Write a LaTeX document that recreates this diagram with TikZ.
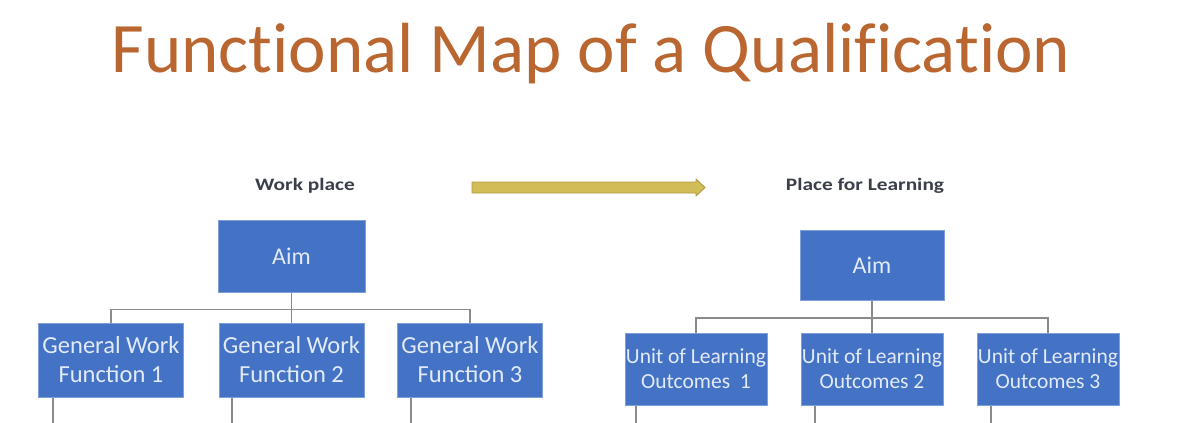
\documentclass[tikz,border=0pt]{standalone}
\usepackage{fontspec}
\setmainfont{Carlito}
\usetikzlibrary{calc}
\newfontfamily\titlefont[RawFeature=-liga]{Carlito}
\newfontfamily\widefont[FakeStretch=1.22]{Carlito}
\definecolor{titlecol}{HTML}{BA6630}
\definecolor{boxfill}{HTML}{4472C4}
\definecolor{boxedge}{HTML}{7F9FD8}
\definecolor{boxtext}{HTML}{E2EAF8}
\definecolor{linecol}{HTML}{8A8A8A}
\definecolor{arrfill}{HTML}{D2BC58}
\definecolor{arredge}{HTML}{B09A3C}
\definecolor{headcol}{HTML}{3A3F4A}
\begin{document}
\begin{tikzpicture}[x=1pt,y=-1pt,
  box/.style={draw=boxedge,line width=1pt,fill=boxfill,text=boxtext,align=center,inner sep=0pt},
  gwbox/.style={box,minimum width=145pt,minimum height=74pt,font=\fontsize{24.5}{29}\selectfont},
  ubox/.style={box,minimum width=142pt,minimum height=72pt,font=\fontsize{21.5}{25}\selectfont},
  aimbox/.style={box,font=\fontsize{24}{26}\selectfont},
  conn/.style={draw=linecol,line width=1.4pt},
  head/.style={text=headcol,font=\widefont\bfseries\fontsize{17.5}{20}\selectfont}]
\useasboundingbox[fill=white] (0,0) rectangle (1200,423);
\node[text=titlecol,font=\titlefont\fontsize{71}{76}\selectfont,anchor=base] (title) at (591,72) {Functional Map of a Qualification};
\node[head] (hl) at (305,186) {Work place};
\node[head] (hr) at (865,186) {Place for Learning};
% arrow
\coordinate (as) at (472,187.5);
\coordinate (ae) at (705,187.5);
\fill[arrfill,draw=arredge,line width=0.9pt,line join=round]
  ($(as)+(0,-5.5)$) -- ($(ae)+(-9,-5.5)$) -- ($(ae)+(-9,-8.5)$) -- (ae)
  -- ($(ae)+(-9,8.5)$) -- ($(ae)+(-9,5.5)$) -- ($(as)+(0,5.5)$) -- cycle;
% left tree
\node[aimbox,minimum width=147pt,minimum height=72pt] (aimL) at (291.5,256) {Aim};
\node[gwbox] (g1) at (111,360) {General Work\\Function 1};
\node[gwbox] (g2) at (291.5,360) {General Work\\Function 2};
\node[gwbox] (g3) at (470,360) {General Work\\Function 3};
\coordinate (jl) at (291.5,309.5);
\draw[conn] (aimL.south) -- (jl);
\draw[conn] (g1.north) |- (jl) -| (g3.north);
\draw[conn] (jl) -- (g2.north);
\coordinate (b1) at (53,423);
\coordinate (b2) at (232,423);
\coordinate (b3) at (411,423);
\draw[conn] (g1.south -| b1) -- (b1);
\draw[conn] (g2.south -| b2) -- (b2);
\draw[conn] (g3.south -| b3) -- (b3);
% right tree
\node[aimbox,minimum width=144pt,minimum height=70pt] (aimR) at (872,265) {Aim};
\node[ubox] (u1) at (696,369) {Unit of Learning\\Outcomes~~1};
\node[ubox] (u2) at (872,369) {Unit of Learning\\Outcomes 2};
\node[ubox] (u3) at (1048,369) {Unit of Learning\\Outcomes 3};
\coordinate (jr) at (872,318);
\draw[conn] (aimR.south) -- (jr);
\draw[conn] (u1.north) |- (jr) -| (u3.north);
\draw[conn] (jr) -- (u2.north);
\coordinate (c1) at (636,423);
\coordinate (c2) at (815,423);
\coordinate (c3) at (991,423);
\draw[conn] (u1.south -| c1) -- (c1);
\draw[conn] (u2.south -| c2) -- (c2);
\draw[conn] (u3.south -| c3) -- (c3);
\end{tikzpicture}
\end{document}
